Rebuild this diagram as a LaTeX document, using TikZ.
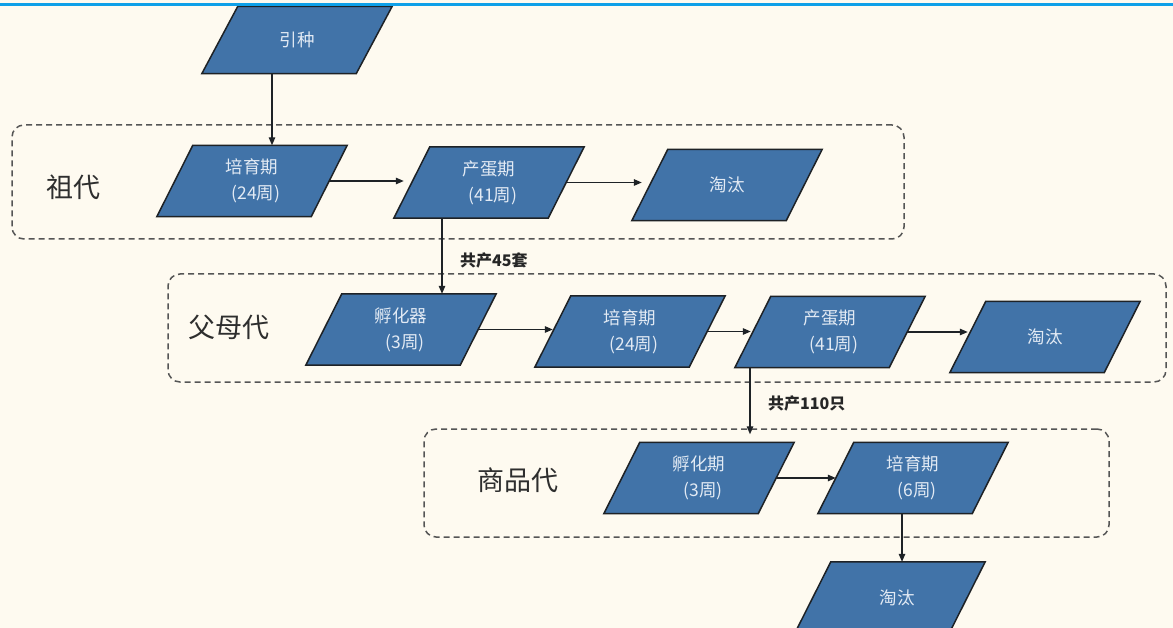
\documentclass[tikz,border=0pt]{standalone}
\usepackage{fontspec}
\setmainfont{Noto Sans CJK SC}
\usetikzlibrary{arrows.meta,calc}
\definecolor{bgc}{HTML}{FEFAF0}
\definecolor{boxc}{HTML}{4173A8}
\definecolor{edgec}{HTML}{1E2226}
\definecolor{txtc}{HTML}{E2EAF4}
\definecolor{topc}{HTML}{0EA0E8}
\definecolor{dashc}{HTML}{555555}
\definecolor{labc}{HTML}{2E2E2E}
\pgfdeclarelayer{back}
\pgfdeclarelayer{bg}
\pgfsetlayers{back,bg,main}
\tikzset{
  pnode/.style={rectangle,inner sep=0pt,minimum width=154pt,minimum height=71pt,
    align=center,text=txtc,font=\fontsize{17.5}{26}\selectfont},
  pshape/.style={draw=edgec,line width=1.5pt,fill=boxc,line join=miter},
  group/.style={draw=dashc,line width=1.5pt,dash pattern=on 6pt off 4pt,
    rounded corners=12pt,inner sep=0pt},
  glabel/.style={text=labc,font=\fontsize{27}{30}\selectfont,inner sep=0pt},
  arr/.style={draw=edgec,line width=1.3pt,-{Triangle[length=8pt,width=6.5pt]}},
  qlabel/.style={text=black!85,font=\fontsize{16}{18}\selectfont\bfseries,
    inner sep=0pt,anchor=west}
}
\newcommand\pgram[4][]{%
  \node[pnode,#1] (#2) at (#3) {#4};
  \begin{pgfonlayer}{bg}
    \draw[pshape] ([xshift=18pt]#2.north west) -- ([xshift=18pt]#2.north east)
      -- ([xshift=-18pt]#2.south east) -- ([xshift=-18pt]#2.south west) -- cycle;
  \end{pgfonlayer}}
\begin{document}
\begin{tikzpicture}[x=1pt,y=-1pt]
\begin{pgfonlayer}{back}
  \fill[bgc] (0,0) rectangle (1173,628);
\end{pgfonlayer}
\useasboundingbox (0,0) rectangle (1173,628);

% group frames
\node[group,minimum width=892pt,minimum height=114pt] (g1) at (458,182) {};
\node[group,minimum width=998pt,minimum height=108pt] (g2) at (667,328) {};
\node[group,minimum width=685pt,minimum height=108pt] (g3) at (766.5,483) {};

\node[glabel] (l1) at (73,187) {祖代};
\node[glabel] (l2) at (228.5,327) {父母代};
\node[glabel] (l3) at (518,480) {商品代};

% shapes
\pgram[minimum height=67pt]{yz}{297,40}{引种}
\pgram{zd1}{252,181}{培育期\\\hspace*{8pt}(24周)}
\pgram{zd2}{489,182.5}{产蛋期\\\hspace*{8pt}(41周)}
\pgram{zd3}{727,185}{淘汰}
\pgram{fm1}{401,329.5}{孵化器\\\hspace*{8pt}(3周)}
\pgram{fm2}{630,331.5}{培育期\\\hspace*{8pt}(24周)}
\pgram{fm3}{830,332}{产蛋期\\\hspace*{8pt}(41周)}
\pgram{fm4}{1045,337}{淘汰}
\pgram{sp1}{699,478}{孵化期\\\hspace*{8pt}(3周)}
\pgram{sp2}{913,478}{培育期\\\hspace*{8pt}(6周)}
\pgram{sp3}{890,597.5}{\hspace*{14pt}淘汰}

% connectors
\coordinate (a1) at ([xshift=-25pt]yz.south);
\draw[arr] (a1) -- (a1 |- zd1.north);
\draw[arr,shorten >=8pt] (zd1.east) -- (zd1.east -| zd2.west);
\draw[arr,shorten >=8pt] (zd2.east) -- (zd2.east -| zd3.west);
\coordinate (a2) at ([xshift=-47pt]zd2.south);
\draw[arr] (a2) -- (a2 |- fm1.north);
\node[qlabel] (q1) at (460,260) {共产45套};
\draw[arr] (fm1.east) -- (fm1.east -| fm2.west);
\draw[arr,shorten >=2pt] (fm2.east) -- (fm2.east -| fm3.west);
\draw[arr] (fm3.east) -- (fm3.east -| fm4.west);
\coordinate (a3) at ([xshift=-80pt]fm3.south);
\draw[arr,shorten >=8pt] (a3) -- (a3 |- sp1.north);
\node[qlabel] (q2) at (768,403) {共产110只};
\draw[arr] (sp1.east) -- (sp1.east -| sp2.west);
\coordinate (a4) at ([xshift=-11pt]sp2.south);
\draw[arr] (a4) -- (a4 |- sp3.north);

% top rule
\fill[topc] (0,3.5) rectangle (1173,6.5);
\end{tikzpicture}
\end{document}
